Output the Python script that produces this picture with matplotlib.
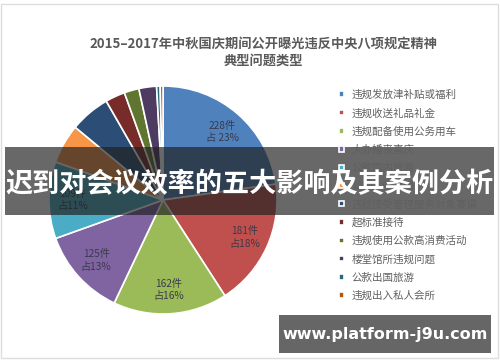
import matplotlib.pyplot as plt
from matplotlib.patches import Rectangle

plt.rcParams['font.family'] = ['Noto Sans CJK SC', 'DejaVu Sans']

# data (12 categories, clockwise from 12 o'clock)
categories = ['违规发放津补贴或福利', '违规收送礼品礼金', '违规配备使用公务用车',
              '大办婚丧喜庆', '公款国内旅游', '公款大吃大喝',
              '违规接受管理服务对象宴请', '超标准接待', '违规使用公款高消费活动',
              '楼堂馆所违规问题', '公款出国旅游', '违规出入私人会所']
counts = [228, 181, 162, 125, 109, 56, 57, 28, 21, 25, 5, 4]
slice_labels = ['228件\n占 23%', '181件\n占18%', '162件\n占16%', '125件\n占13%',
                '109件\n占11%', '', '', '', '', '', '', '']
colors = ['#4F81BD', '#C0504D', '#9BBB59', '#8064A2', '#4BACC6', '#F79646',
          '#2C4D75', '#772C2A', '#5F7530', '#4D3B62', '#276A7C', '#B65708']

title = '2015–2017年中秋国庆期间公开曝光违反中央八项规定精神\n典型问题类型'
banner = '迟到对会议效率的五大影响及其案例分析'
watermark = 'www.platform-j9u.com'

fig = plt.figure(figsize=(5, 3.62), dpi=100)
fig.patch.set_facecolor('white')

# pie axes: centre ~ (163,200) px, radius ~114 px
R = 114
lim = 1.15
w = 2 * R * lim
ax = fig.add_axes([(163 - R * lim) / 500, (362 - 200 - R * lim) / 362, w / 500, w / 362])
wedges, texts = ax.pie(counts, colors=colors, startangle=90, counterclock=False,
                       labels=slice_labels, labeldistance=0.79,
                       wedgeprops=dict(edgecolor='white', linewidth=1.2),
                       textprops=dict(fontsize=7.3, color='#3a3a4a', ha='center', va='center',
                                      linespacing=1.3))
ax.set_xlim(-lim, lim)
ax.set_ylim(-lim, lim)
ax.set_aspect('equal')
ax.axis('off')

fig.text(0.526, 0.855, title, ha='center', va='center', fontsize=9.5,
         fontweight='bold', color='#595959', linespacing=1.25)

leg = fig.legend(wedges, categories, loc='upper left', bbox_to_anchor=(0.668, 0.767),
                 frameon=False, fontsize=7.6, handlelength=0.45, handleheight=0.45,
                 handletextpad=0.7, labelspacing=0.76, borderpad=0)
for t in leg.get_texts():
    t.set_color('#606060')

# dark translucent banner over the middle
fig.patches.append(Rectangle((0.01, 1 - 215 / 362), 0.978, 68 / 362, transform=fig.transFigure,
                             facecolor='#202020', alpha=0.68, edgecolor='none', zorder=5))
fig.text(0.5, 1 - 184 / 362, banner, ha='center', va='center', fontsize=19.5,
         fontweight='bold', color='white', zorder=6)

# watermark box
fig.patches.append(Rectangle((279 / 500, 1 - 353 / 362), 212 / 500, 38 / 362,
                             transform=fig.transFigure, facecolor='#666666',
                             edgecolor='none', zorder=5))
fig.text(385 / 500, 1 - 334 / 362, watermark, ha='center', va='center', fontsize=11.5,
         fontweight='bold', color='white', family=['DejaVu Sans'], zorder=6)

# thin frame round the picture
fig.patches.append(Rectangle((0.002, 0.01), 0.994, 0.978, transform=fig.transFigure,
                             facecolor='none', edgecolor='#dddddd', linewidth=1))

fig.savefig('out.png', dpi=100)
